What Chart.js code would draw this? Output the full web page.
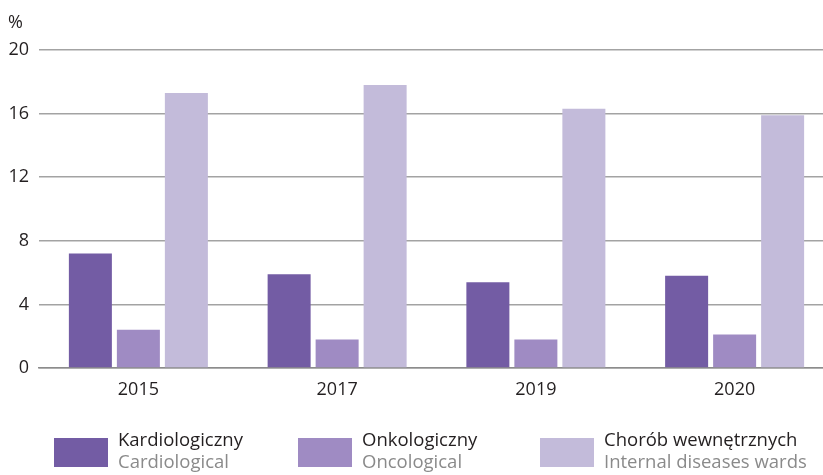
<!DOCTYPE html>
<html lang="pl">
<head>
  <meta charset="UTF-8">
  <title>Oddziały szpitalne</title>
  <script src="https://cdn.jsdelivr.net/npm/chart.js"></script>
  <style>
    html, body {
      margin: 0;
      padding: 0;
      background: #ffffff;
      font-family: 'Open Sans', sans-serif;
      color: #231f20;
    }

    .wrap {
      position: relative;
      width: 823px;
      height: 475px;
      overflow: hidden;
    }

    canvas {
      position: absolute;
      left: 0;
      top: 0;
    }

    .unit {
      position: absolute;
      left: 8px;
      top: 9px;
      font-size: 18px;
    }

    .legend-item {
      position: absolute;
      top: 427px;
    }

    .legend-item .box {
      position: absolute;
      left: 0;
      top: 11px;
      width: 54px;
      height: 29px;
    }

    .legend-item .pl {
      position: absolute;
      left: 64px;
      top: 0;
      font-size: 18.5px;
      white-space: nowrap;
      line-height: 23px;
    }

    .legend-item .en {
      position: absolute;
      left: 64px;
      top: 22px;
      font-size: 18.5px;
      color: #8a8a8a;
      white-space: nowrap;
      line-height: 23px;
    }
  </style>
</head>
<body>
  <div class="wrap">
    <canvas id="wykres" width="834" height="475"></canvas>
    <div class="unit">%</div>
    <div id="legenda"></div>
  </div>

  <script>
    // lata i wartości (%)
    const lata = ['2015', '2017', '2019', '2020'];
    const kardiologiczny = [7.2, 5.9, 5.4, 5.8];
    const onkologiczny = [2.4, 1.8, 1.8, 2.1];
    const chorobWewnetrznych = [17.3, 17.8, 16.3, 15.9];

    const nazwyPl = ['Kardiologiczny', 'Onkologiczny', 'Chorób wewnętrznych'];
    const nazwyEn = ['Cardiological', 'Oncological', 'Internal diseases wards'];
    const kolory = ['#735ca4', '#9f8bc3', '#c3bbda'];
    const legendaX = [54, 298, 540];

    const serie = [kardiologiczny, onkologiczny, chorobWewnetrznych];

    // legenda w HTML (dwie linie tekstu)
    const legenda = document.getElementById('legenda');
    serie.forEach((s, i) => {
      const el = document.createElement('div');
      el.className = 'legend-item';
      el.style.left = legendaX[i] + 'px';
      el.innerHTML = `<div class="box" style="background:${kolory[i]}"></div>` +
        `<div class="pl">${nazwyPl[i]}</div><div class="en">${nazwyEn[i]}</div>`;
      legenda.appendChild(el);
    });

    const ctx = document.getElementById('wykres').getContext('2d');
    new Chart(ctx, {
      type: 'bar',
      data: {
        labels: lata,
        datasets: serie.map((s, i) => ({
          label: nazwyPl[i],
          data: s,
          backgroundColor: kolory[i],
          borderWidth: 0,
          categoryPercentage: 0.7245,
          barPercentage: 0.896
        }))
      },
      options: {
        responsive: false,
        animation: false,
        layout: { padding: { top: 50, right: 0, left: 0, bottom: 0 } },
        plugins: {
          legend: { display: false },
          tooltip: { enabled: false }
        },
        scales: {
          x: {
            grid: { display: false, drawTicks: false },
            border: { display: true, color: '#8c8c8c', width: 1.5 },
            ticks: {
              color: '#231f20',
              font: { family: 'Open Sans', size: 18 },
              padding: 11,
              maxRotation: 0
            },
            afterFit(scale) { scale.height = 107; }
          },
          y: {
            min: 0,
            max: 20,
            ticks: {
              stepSize: 4,
              color: '#231f20',
              font: { family: 'Open Sans', size: 18 },
              padding: 10
            },
            grid: { color: '#a3a3a3', lineWidth: 1.5, drawTicks: false },
            border: { display: false },
            afterFit(scale) { scale.width = 39; }
          }
        }
      }
    });
  </script>
</body>
</html>
